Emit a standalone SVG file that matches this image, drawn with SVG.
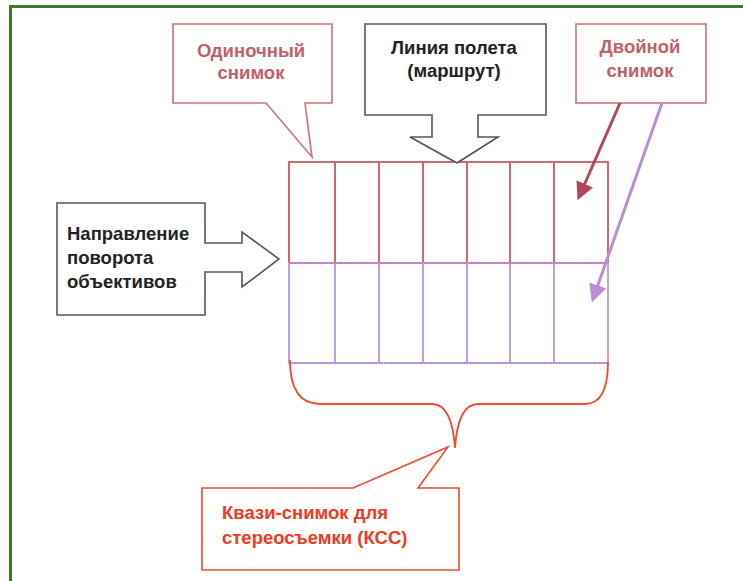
<svg xmlns="http://www.w3.org/2000/svg" width="743" height="581" viewBox="0 0 743 581">
<defs>
<style>
text{font-family:"Liberation Sans",Arial,sans-serif;font-weight:bold;font-size:18.5px}
.pink{fill:#c0606a}
.blk{fill:#222}
.red{fill:#f03a20}
.cpink{fill:#fff;stroke:#d0707a;stroke-width:1.6}
.cblk{fill:#fff;stroke:#555;stroke-width:1.6}
.cred{fill:#fff;stroke:#f04a30;stroke-width:1.6}
.top{stroke:#c85a64;stroke-width:1.8;fill:none}
.bot{stroke:#b898d8;stroke-width:1.8;fill:none}
</style>
<marker id="ahR" viewBox="0 0 10 10" refX="8" refY="5" markerWidth="6" markerHeight="6" orient="auto"><path d="M0,0 L10,5 L0,10 z" fill="#b04858"/></marker>
<marker id="ahP" viewBox="0 0 10 10" refX="8" refY="5" markerWidth="6" markerHeight="6" orient="auto"><path d="M0,0 L10,5 L0,10 z" fill="#b890d0"/></marker>
</defs>
<rect x="0" y="0" width="743" height="581" fill="#fff"/>
<path d="M10.5,590 V6.5 H750" fill="none" stroke="#3d7a2c" stroke-width="3"/>

<g id="grid">
<rect x="289" y="162" width="319" height="101" class="top"/>
<path d="M335,162V263 M379,162V263 M423,162V263 M467,162V263 M510,162V263 M554,162V263" class="top"/>
<rect x="289" y="263" width="319" height="100" class="bot"/>
<path d="M335,263V363 M379,263V363 M423,263V363 M467,263V363 M510,263V363 M554,263V363" class="bot"/>
<path d="M289,263H608" stroke="#c080b0" stroke-width="1.6" stroke-dasharray="3,2"/>
<path d="M289,363H608" stroke="#b090d0" stroke-width="1.6" stroke-dasharray="3,2"/>
</g>

<g id="single">
<path d="M173,24 H332 V103 H305 L312,157 L266,103 H173 Z" class="cpink"/>
<text x="251" y="57" text-anchor="middle" class="pink">Одиночный</text>
<text x="251" y="79" text-anchor="middle" class="pink">снимок</text>
</g>

<g id="flight">
<path d="M365,24 H546 V115 H478 V137 H498 L457,163 L410,137 H432 V115 H365 Z" class="cblk"/>
<text x="454" y="54" text-anchor="middle" class="blk">Линия полета</text>
<text x="454" y="77" text-anchor="middle" class="blk">(маршрут)</text>
</g>

<g id="double">
<rect x="576" y="24" width="130" height="79" class="cpink"/>
<text x="640" y="53" text-anchor="middle" class="pink">Двойной</text>
<text x="640" y="77" text-anchor="middle" class="pink">снимок</text>
</g>

<g id="direction">
<path d="M57,203 H205 V243 H242 V232 L279,259 L242,287 V272 H205 V315 H57 Z" class="cblk"/>
<text x="67" y="240" class="blk">Направление</text>
<text x="67" y="264" class="blk">поворота</text>
<text x="67" y="288" class="blk">объективов</text>
</g>

<g id="kss">
<path d="M202,488 H353 L448,447 L418,488 H459 V570 H202 Z" class="cred"/>
<text x="222" y="519" class="red">Квази-снимок для</text>
<text x="222" y="544" class="red">стереосъемки (КСС)</text>
</g>

<g id="connectors">
<path d="M620,103 L579,197" stroke="#b04858" stroke-width="3" fill="none" marker-end="url(#ahR)"/>
<path d="M662,103 L593,299" stroke="#b890d0" stroke-width="3" fill="none" marker-end="url(#ahP)"/>
<path d="M290,360 Q290,404 320,404 H432 Q452,404 455,448 Q458,404 478,404 H585 Q608,404 608,362" fill="none" stroke="#f04a30" stroke-width="1.8"/>
</g>
</svg>
